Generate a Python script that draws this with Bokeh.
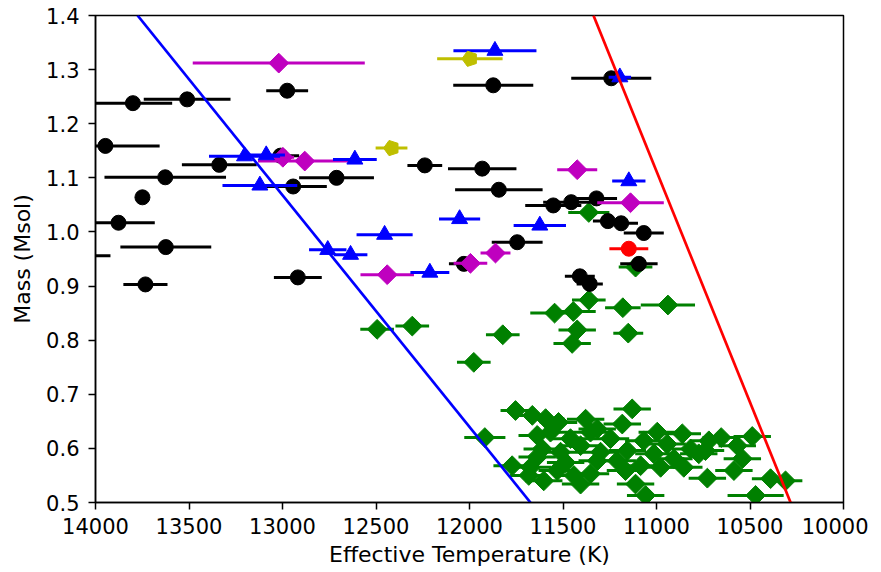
import numpy as np
from bokeh.plotting import figure
from bokeh.models import Range1d, FixedTicker
from bokeh.embed import file_html
from bokeh.resources import INLINE

# ---------------- data ----------------
x_ticks = [14000, 13500, 13000, 12500, 12000, 11500, 11000, 10500, 10000]
x_tick_labels = ["14000", "13500", "13000", "12500", "12000", "11500", "11000", "10500", "10000"]
y_ticks = [0.5, 0.6, 0.7, 0.8, 0.9, 1.0, 1.1, 1.2, 1.3, 1.4]
y_tick_labels = ["0.5", "0.6", "0.7", "0.8", "0.9", "1.0", "1.1", "1.2", "1.3", "1.4"]

# boundary lines (Teff, Mass)
blue_line_T = [13775, 11674]
blue_line_M = [1.4, 0.5]
red_line_T = [11337, 10283]
red_line_M = [1.4, 0.5]

green_T = [11362, 12494, 12306, 11362, 11545, 11445, 11180, 10939, 11424, 11451, 11151, 11822, 11977, 11112,
           11754, 11918, 11664, 11593, 11524, 11379, 11638, 11567, 11460, 11353, 11611, 11513, 11406, 11674,
           11683, 11603, 11531, 11442, 11406, 11353, 11638, 11183, 11317, 11246, 10996, 10862, 11068, 10943,
           10818, 11156, 11299, 11014, 10907, 11210, 10774, 10720, 11085, 10978, 10854, 11112, 10728, 11058,
           11317, 10654, 10488, 10568, 10738, 10541, 10586, 10390, 10310, 10470, 11130, 11772, 11486, 11166]
green_M = [1.036, 0.820, 0.826, 0.874, 0.850, 0.853, 0.860, 0.865, 0.819, 0.794, 0.813, 0.810, 0.759, 0.935,
           0.670, 0.620, 0.661, 0.655, 0.648, 0.654, 0.624, 0.630, 0.618, 0.630, 0.599, 0.593, 0.605, 0.565,
           0.550, 0.540, 0.559, 0.550, 0.534, 0.553, 0.584, 0.645, 0.636, 0.618, 0.630, 0.627, 0.614, 0.608,
           0.599, 0.596, 0.593, 0.590, 0.581, 0.577, 0.590, 0.614, 0.568, 0.565, 0.565, 0.534, 0.545, 0.513,
           0.577, 0.620, 0.622, 0.605, 0.596, 0.581, 0.559, 0.544, 0.540, 0.513, 0.673, 0.568, 0.574, 0.559]
green_err = [110, 90, 90, 90, 130, 120, 95, 145, 100, 100, 80, 90, 90, 90,
             80, 110, 100, 100, 100, 100, 100, 100, 100, 100, 100, 100, 100, 110,
             100, 100, 100, 100, 100, 100, 100, 100, 100, 100, 100, 100, 100, 100,
             100, 100, 100, 100, 100, 100, 100, 100, 100, 100, 100, 100, 100, 100,
             100, 100, 100, 100, 100, 100, 100, 100, 90, 150, 100, 100, 100, 100]

black_T = [12975, 13800, 13510, 13947, 13011, 13338, 13627, 12711, 12943, 13749, 13877, 13624, 14150, 13733,
           12918, 11873, 11242, 12239, 11932, 11843, 11552, 11456, 11321, 11260, 11189, 11068, 11745, 12030,
           11410, 11357, 11094]
black_M = [1.261, 1.238, 1.245, 1.159, 1.141, 1.124, 1.101, 1.100, 1.084, 1.064, 1.017, 0.972, 0.956, 0.903,
           0.916, 1.271, 1.284, 1.123, 1.117, 1.078, 1.049, 1.055, 1.062, 1.020, 1.016, 0.998, 0.981, 0.941,
           0.918, 0.904, 0.941]
black_err = [112, 210, 232, 290, 100, 200, 325, 200, 180, 0, 194, 243, 230, 118,
             128, 214, 214, 93, 183, 234, 150, 150, 110, 80, 90, 107, 136, 80,
             80, 70, 100]

magenta_T = [13020, 12998, 12881, 12440, 11995, 11861, 11424, 11139]
magenta_M = [1.312, 1.138, 1.131, 0.921, 0.942, 0.961, 1.115, 1.054]
magenta_err = [460, 60, 250, 143, 90, 80, 107, 178]

blue_T = [13203, 13087, 12613, 13121, 12758, 12636, 12454, 11864, 11196, 11148, 12053, 11624, 12212]
blue_M = [1.140, 1.142, 1.134, 1.086, 0.967, 0.958, 0.995, 1.335, 1.286, 1.094, 1.024, 1.012, 0.925]
blue_err = [190, 100, 117, 200, 100, 90, 150, 222, 60, 89, 110, 140, 104]

yellow_T = [11998, 12417]
yellow_M = [1.320, 1.155]
yellow_err = [175, 85]

red_T = [11148]
red_M = [0.969]
red_err = [104]

# ---------------- figure ----------------
FONT = "DejaVu Sans"
p = figure(width=868, height=570,
           x_range=Range1d(14000, 10000), y_range=Range1d(0.5, 1.4),
           output_backend="svg", toolbar_location=None,
           min_border_left=95, min_border_right=25, min_border_top=15, min_border_bottom=68)
p.background_fill_color = "white"
p.border_fill_color = "white"
p.outline_line_color = "black"
p.outline_line_width = 1.5
p.xgrid.visible = False
p.ygrid.visible = False

p.xaxis.ticker = FixedTicker(ticks=x_ticks)
p.yaxis.ticker = FixedTicker(ticks=y_ticks)
p.xaxis.major_label_overrides = {t: l for t, l in zip(x_ticks, x_tick_labels)}
p.yaxis.major_label_overrides = {t: l for t, l in zip(y_ticks, y_tick_labels)}
p.xaxis.axis_label = "Effective Temperature (K)"
p.yaxis.axis_label = "Mass (Msol)"
for ax in (p.xaxis, p.yaxis):
    ax.axis_line_color = "black"
    ax.axis_line_width = 1.5
    ax.major_tick_line_color = "black"
    ax.major_tick_line_width = 1.5
    ax.major_tick_out = 7
    ax.major_tick_in = 0
    ax.minor_tick_line_color = None
    ax.major_label_text_font = FONT
    ax.major_label_text_font_size = "21px"
    ax.major_label_text_color = "black"
    ax.axis_label_text_font = FONT
    ax.axis_label_text_font_size = "22px"
    ax.axis_label_text_font_style = "normal"
    ax.axis_label_text_color = "black"
p.xaxis.major_label_standoff = 8
p.yaxis.major_label_standoff = 9
p.xaxis.axis_label_standoff = 5
p.yaxis.axis_label_standoff = 8


def series(T, M, err, color, marker, size, angle=0.0):
    T = np.asarray(T, dtype=float)
    M = np.asarray(M, dtype=float)
    e = np.asarray(err, dtype=float)
    p.segment(x0=T - e, x1=T + e, y0=M, y1=M, line_color=color, line_width=3)
    p.scatter(T, M, marker=marker, size=size, fill_color=color, line_color=color, angle=angle)


series(green_T, green_M, green_err, "#008000", "square", 14, np.pi / 4)
series(black_T, black_M, black_err, "black", "circle", 15)
series(magenta_T, magenta_M, magenta_err, "#bf00bf", "square", 14, np.pi / 4)
series(blue_T, blue_M, blue_err, "#0000ff", "triangle", 16)

# yellow pentagons
yT = np.asarray(yellow_T, dtype=float)
yM = np.asarray(yellow_M, dtype=float)
ye = np.asarray(yellow_err, dtype=float)
p.segment(x0=yT - ye, x1=yT + ye, y0=yM, y1=yM, line_color="#bfbf00", line_width=3)
try:
    p.ngon(x=yT, y=yM, radius=8, radius_units="screen", n=5, angle=np.pi / 2,
           fill_color="#bfbf00", line_color="#bfbf00")
except Exception:
    p.scatter(yT, yM, marker="hex", size=15, fill_color="#bfbf00", line_color="#bfbf00")

series(red_T, red_M, red_err, "#ff0000", "circle", 15)

p.line(blue_line_T, blue_line_M, line_color="#0000ff", line_width=2.7)
p.line(red_line_T, red_line_M, line_color="#ff0000", line_width=2.7)

open("out.html", "w").write(file_html(p, INLINE))
